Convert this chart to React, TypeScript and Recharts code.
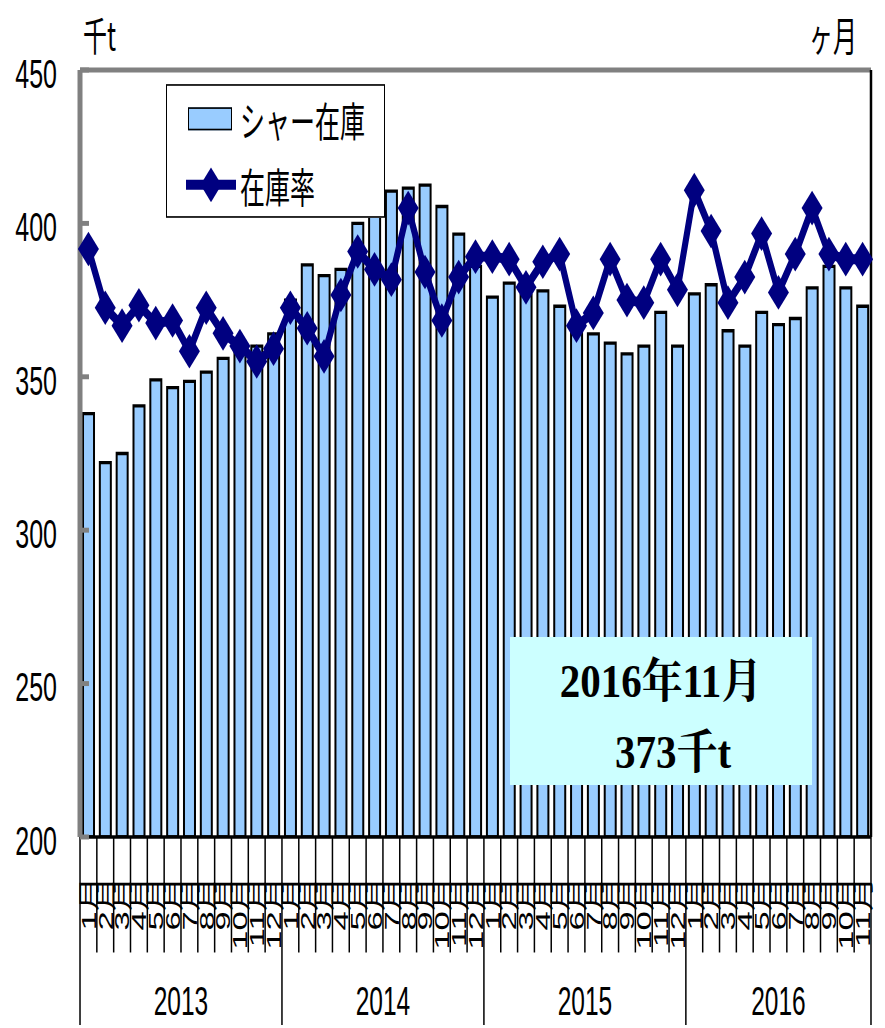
import React from "react";
import {
  ComposedChart,
  Bar,
  Line,
  XAxis,
  YAxis,
  Legend,
  ReferenceLine,
} from "recharts";

// source chart looks stretched vertically, so everything is drawn flat and scaled by K
const K = 1.65;
const W = 885;
const H = 1028 / K;
const LEFT_W = 80;
const RIGHT_W = 14;
const PLOT_TOP = 70 / K;
const PLOT_BOTTOM = 837 / K;

const years = [2013, 2014, 2015, 2016];
const monthsPerYear = [12, 12, 12, 11];

// シャー在庫 (千t)
const stock = [
  338, 322, 325, 340.5, 349, 346.5, 348.5, 351.5, 356, 358, 360, 364,
  375, 386.5, 383, 385, 400, 405, 410.5, 411.5, 412.5, 405.5, 396.5, 386,
  376, 380.5, 376.5, 378, 373, 367, 364, 361, 357.5, 360, 371, 360,
  377, 380, 365, 360, 371, 367, 369, 379, 386, 379, 373,
];

// 在庫率 (ヶ月)
const ratio = [
  2.3, 2.07, 2.0, 2.08, 2.01, 2.02, 1.9, 2.07, 1.97, 1.92, 1.86, 1.91,
  2.07, 1.99, 1.88, 2.12, 2.29, 2.22, 2.18, 2.46, 2.21, 2.02, 2.19, 2.27,
  2.27, 2.26, 2.15, 2.25, 2.28, 2.0, 2.05, 2.26, 2.1, 2.09, 2.26, 2.14,
  2.53, 2.37, 2.09, 2.19, 2.36, 2.13, 2.28, 2.46, 2.28, 2.26, 2.26,
];

const leftTicks = [200, 250, 300, 350, 400, 450];
const rightTicks = [0, 0.5, 1, 1.5, 2, 2.5, 3];

type Row = {
  label: string;
  month: number;
  year: number;
  yearIdx: number;
  stock: number;
  ratio: number;
};

const rows: Row[] = [];
years.forEach((yr, yi) => {
  for (let m = 1; m <= monthsPerYear[yi]; m++) {
    const i = rows.length;
    rows.push({
      label: `${m}月`,
      month: m,
      year: yr,
      yearIdx: yi,
      stock: stock[i],
      ratio: ratio[i],
    });
  }
});

const BAND = (W - LEFT_W - RIGHT_W) / rows.length;
const MONTH_LINE = 70;
const YEAR_LINE = 114;
const SANS = '"Liberation Sans", "Noto Sans CJK JP", sans-serif';

function MonthTick(props: any) {
  const { x, y, index } = props;
  const row = rows[index];
  if (!row) return null;
  const left = x - BAND / 2;
  const yearStart = row.month === 1;
  const last = index === rows.length - 1;
  return (
    <g>
      <line
        x1={left}
        x2={left}
        y1={y}
        y2={y + (yearStart ? YEAR_LINE : MONTH_LINE)}
        stroke="#000"
        strokeWidth={1.5}
      />
      {last && (
        <line
          x1={x + BAND / 2}
          x2={x + BAND / 2}
          y1={y}
          y2={y + YEAR_LINE}
          stroke="#000"
          strokeWidth={1.5}
        />
      )}
      <text
        transform={`translate(${x},${y + 24}) rotate(-90)`}
        textAnchor="end"
        dominantBaseline="central"
        fontSize={21}
        fontFamily={SANS}
        fill="#000"
      >
        {row.label}
      </text>
      {yearStart && (
        <text
          x={left + (monthsPerYear[row.yearIdx] * BAND) / 2}
          y={y + 108}
          textAnchor="middle"
          fontSize={24.5}
          fontFamily={SANS}
          fill="#000"
        >
          {row.year}
        </text>
      )}
    </g>
  );
}

function LeftTick(props: any) {
  const { x, y, payload } = props;
  return (
    <g>
      <line x1={x} x2={x + 9} y1={y} y2={y} stroke="#808080" strokeWidth={3} />
      <text
        x={x - 23}
        y={y + 2}
        textAnchor="end"
        dominantBaseline="central"
        fontSize={25}
        fontFamily={SANS}
        fill="#000"
      >
        {payload.value}
      </text>
    </g>
  );
}

function Diamond(props: any) {
  const { cx, cy } = props;
  if (cx == null || cy == null) return null;
  const r = 10.5;
  return (
    <polygon
      points={`${cx},${cy - r} ${cx + r},${cy} ${cx},${cy + r} ${cx - r},${cy}`}
      fill="#000080"
    />
  );
}

function LegendBox(props: any) {
  const items = props.payload || [];
  return (
    <div
      style={{
        position: "relative",
        width: 219,
        height: 81,
        boxSizing: "border-box",
        border: "1.5px solid #000",
        background: "#fff",
        fontFamily: '"Noto Sans CJK JP", sans-serif',
        fontSize: 25,
        color: "#000",
      }}
    >
      {items.map((it: any, i: number) => {
        const cy = i === 0 ? 20 : 60;
        return (
          <div key={i}>
            {it.type === "rect" ? (
              <div
                style={{
                  position: "absolute",
                  left: 21,
                  top: cy - 7,
                  width: 44,
                  height: 14,
                  boxSizing: "border-box",
                  background: "#99CCFF",
                  border: "1.5px solid #000",
                }}
              />
            ) : (
              <svg
                style={{ position: "absolute", left: 17, top: cy - 11 }}
                width={54}
                height={22}
              >
                <line x1={2} x2={52} y1={11} y2={11} stroke="#000080" strokeWidth={6} />
                <polygon points="27,0.5 37.5,11 27,21.5 16.5,11" fill="#000080" />
              </svg>
            )}
            <div
              style={{
                position: "absolute",
                left: 73,
                top: cy - 15,
                lineHeight: "30px",
                whiteSpace: "nowrap",
              }}
            >
              {it.value}
            </div>
          </div>
        );
      })}
    </div>
  );
}

export default function App() {
  return (
    <div
      style={{
        position: "absolute",
        left: 0,
        top: 0,
        width: W,
        height: 1028,
        background: "#fff",
        overflow: "hidden",
      }}
    >
      <div
        style={{
          position: "absolute",
          left: 0,
          top: 0,
          width: W,
          height: H,
          transform: `scale(1, ${K})`,
          transformOrigin: "0 0",
        }}
      >
        <ComposedChart
          width={W}
          height={H}
          data={rows}
          margin={{ top: PLOT_TOP, right: RIGHT_W, bottom: 0, left: 0 }}
        >
          <XAxis
            dataKey="label"
            type="category"
            interval={0}
            height={H - PLOT_BOTTOM}
            tickSize={0}
            tickMargin={0}
            tickLine={false}
            tick={<MonthTick />}
            axisLine={{ stroke: "#000", strokeWidth: 2 }}
          />
          <YAxis
            yAxisId="left"
            orientation="left"
            width={LEFT_W}
            domain={[200, 450]}
            ticks={leftTicks}
            allowDataOverflow
            tickSize={0}
            tickMargin={0}
            tickLine={false}
            tick={<LeftTick />}
            axisLine={{ stroke: "#808080", strokeWidth: 5 }}
          />
          <YAxis
            yAxisId="right"
            orientation="right"
            width={RIGHT_W}
            domain={[0, 3]}
            ticks={rightTicks}
            mirror
            tick={false}
            tickSize={6}
            tickLine={{ stroke: "#000", strokeWidth: 1.5 }}
            axisLine={{ stroke: "#000", strokeWidth: 2.5 }}
          />
          <ReferenceLine
            yAxisId="left"
            y={450}
            stroke="#808080"
            strokeWidth={3}
          />
          <Bar
            yAxisId="left"
            dataKey="stock"
            name="シャー在庫"
            fill="#99CCFF"
            stroke="#000"
            strokeWidth={2}
            barSize={11}
            isAnimationActive={false}
          />
          <Line
            yAxisId="right"
            dataKey="ratio"
            name="在庫率"
            stroke="#000080"
            strokeWidth={6}
            dot={<Diamond />}
            activeDot={false}
            isAnimationActive={false}
          />
          <Legend
            layout="horizontal"
            align="center"
            verticalAlign="middle"
            content={<LegendBox />}
            wrapperStyle={{ left: 166, top: 84 / K, width: 219, height: 81 }}
          />
        </ComposedChart>
        <div
          style={{
            position: "absolute",
            left: 83,
            top: 9,
            fontSize: 24,
            lineHeight: "24px",
            fontFamily: '"Noto Sans CJK JP", sans-serif',
          }}
        >
          千t
        </div>
        <div
          style={{
            position: "absolute",
            left: 809,
            top: 9,
            fontSize: 24,
            lineHeight: "24px",
            fontFamily: '"Noto Sans CJK JP", sans-serif',
          }}
        >
          ヶ月
        </div>
      </div>
      <div
        style={{
          position: "absolute",
          left: 510,
          top: 637,
          width: 302,
          height: 148,
          background: "#CCFFFF",
          fontFamily: '"Liberation Serif", "Noto Serif CJK JP", "Noto Sans CJK JP", serif',
          fontWeight: "bold",
          fontSize: 41,
          color: "#000",
        }}
      >
        <div
          style={{
            position: "absolute",
            left: 0,
            width: 302,
            top: 22,
            textAlign: "center",
            lineHeight: "44px",
            transform: "scaleY(1.15)",
          }}
        >
          2016年11月
        </div>
        <div
          style={{
            position: "absolute",
            left: 12,
            width: 302,
            top: 93,
            textAlign: "center",
            lineHeight: "44px",
            transform: "scaleY(1.15)",
          }}
        >
          373千t
        </div>
      </div>
    </div>
  );
}
